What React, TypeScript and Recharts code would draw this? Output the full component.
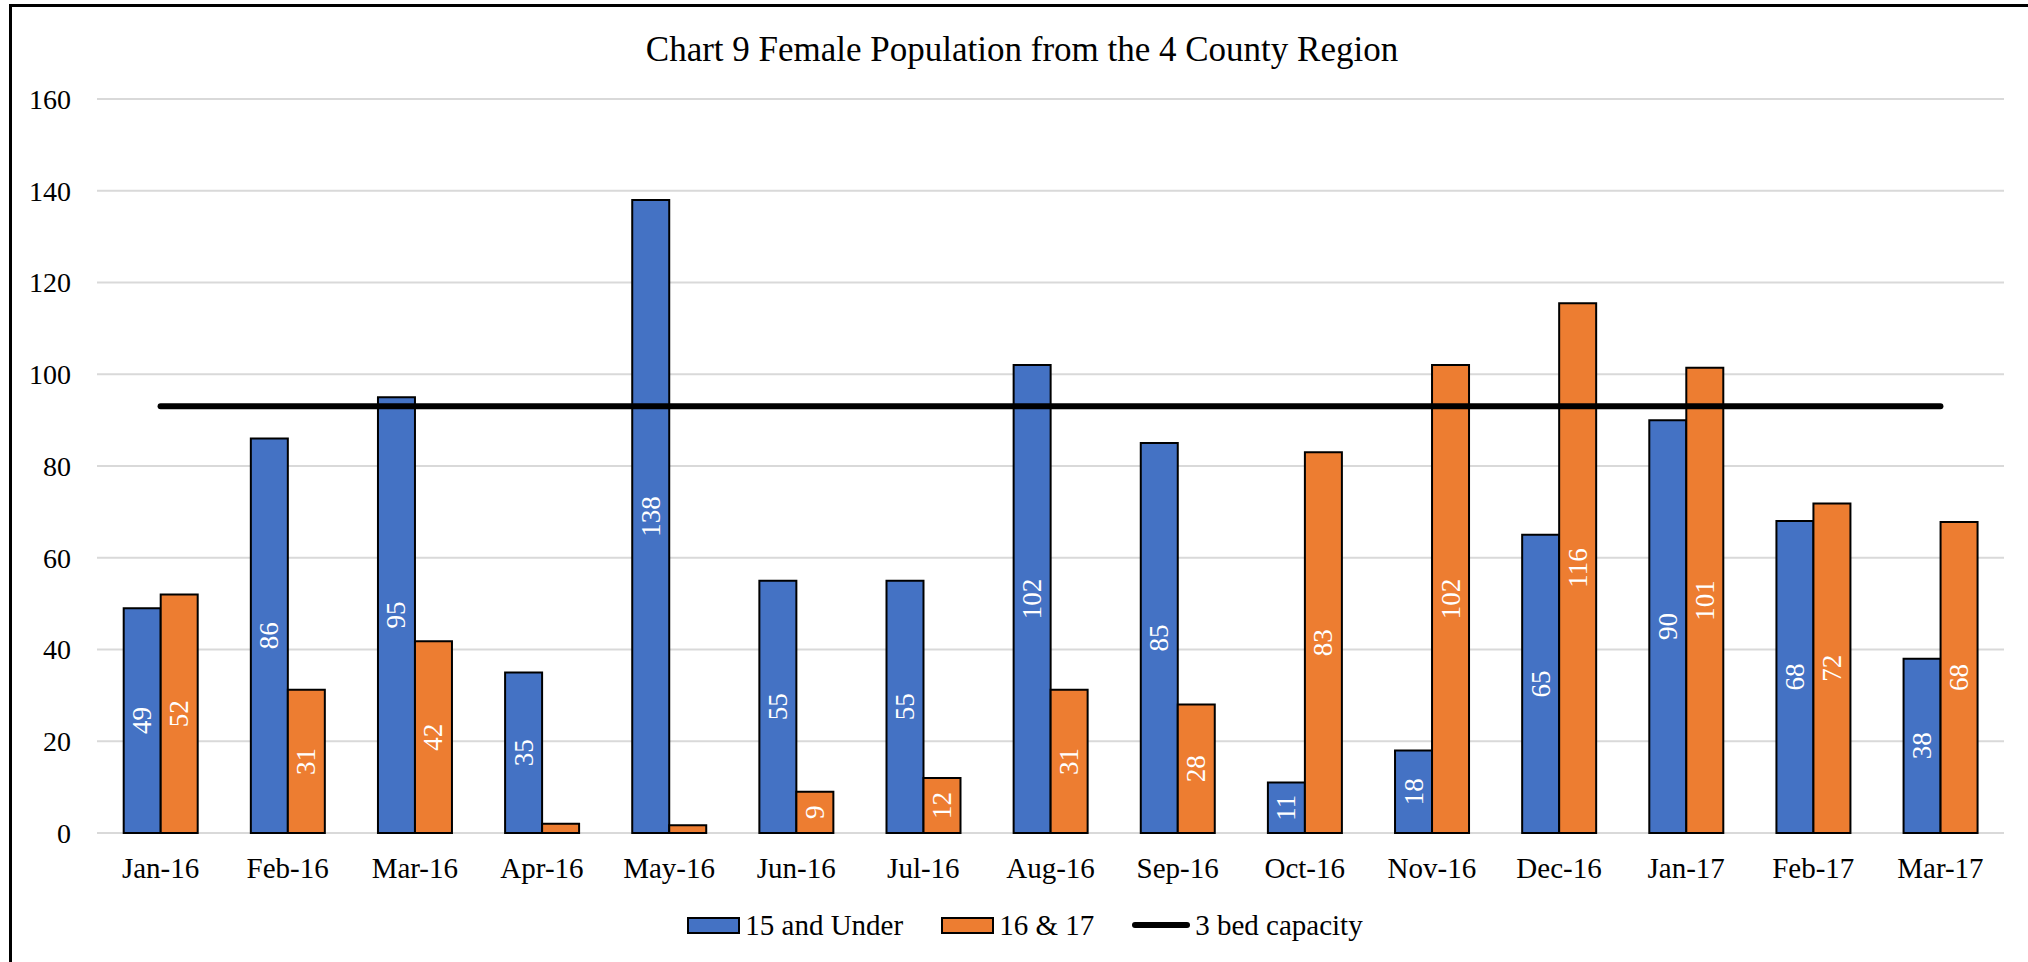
import {
  ComposedChart,
  Bar,
  Line,
  XAxis,
  YAxis,
  CartesianGrid,
  Legend,
  LabelList,
} from 'recharts';

const MONTHS = [
  'Jan-16', 'Feb-16', 'Mar-16', 'Apr-16', 'May-16', 'Jun-16', 'Jul-16', 'Aug-16',
  'Sep-16', 'Oct-16', 'Nov-16', 'Dec-16', 'Jan-17', 'Feb-17', 'Mar-17',
];
const UNDER_15 = [49, 86, 95, 35, 138, 55, 55, 102, 85, 11, 18, 65, 90, 68, 38];
const AGE_16_17 = [52, 31.2, 41.8, 2, 1.7, 9, 12, 31.2, 28, 83, 102, 115.5, 101.4, 71.8, 67.8];
const CAPACITY = [93, 93, 93, 93, 93, 93, 93, 93, 93, 93, 93, 93, 93, 93, 93];
const Y_TICKS = [0, 20, 40, 60, 80, 100, 120, 140, 160];
const CATEGORY_EDGES = [0, 1, 2, 3, 4, 5, 6, 7, 8, 9, 10, 11, 12, 13, 14, 15];

const FONT = '"Liberation Serif", "Times New Roman", serif';
const BLUE = '#4472C4';
const ORANGE = '#ED7D31';
const GRID = '#d9d9d9';

const data = MONTHS.map((m, i) => ({
  month: m,
  under15: UNDER_15[i],
  age1617: AGE_16_17[i],
  capacity: CAPACITY[i],
}));

// rotated white value label in the middle of each bar
function BarValue(props: any) {
  const { x, y, width, height, value } = props;
  if (value == null || value < 5) return null;
  const cx = x + width / 2;
  const cy = y + height / 2;
  return (
    <text
      x={cx}
      y={cy}
      transform={`rotate(-90, ${cx}, ${cy})`}
      textAnchor="middle"
      dominantBaseline="central"
      fill="#fff"
      style={{ fontFamily: FONT, fontSize: 27 }}
    >
      {Math.round(value)}
    </text>
  );
}

function LegendContent(props: any) {
  const { payload } = props;
  return (
    <div
      style={{
        display: 'flex',
        justifyContent: 'center',
        alignItems: 'center',
        height: 40,
        gap: 38,
        paddingLeft: 46,
        fontFamily: FONT,
        fontSize: 29,
        color: '#000',
      }}
    >
      {(payload || []).map((p: any) => (
        <div key={p.value} style={{ display: 'flex', alignItems: 'center', gap: 5 }}>
          {p.type === 'line' ? (
            <svg width={58} height={16}>
              <line x1={3} y1={8} x2={55} y2={8} stroke="#000" strokeWidth={6} strokeLinecap="round" />
            </svg>
          ) : (
            <svg width={53} height={17}>
              <rect x={1} y={1} width={51} height={15} fill={p.color} stroke="#000" strokeWidth={2} />
            </svg>
          )}
          <span style={{ fontFamily: FONT }}>{p.value}</span>
        </div>
      ))}
    </div>
  );
}

export default function App() {
  return (
    <div
      style={{
        position: 'absolute',
        left: 0,
        top: 0,
        width: 2028,
        height: 962,
        overflow: 'hidden',
        background: '#fff',
        fontFamily: FONT,
      }}
    >
      <div
        style={{
          position: 'absolute',
          left: 9,
          top: 4,
          width: 2100,
          height: 1100,
          borderLeft: '3px solid #000',
          borderTop: '3px solid #000',
        }}
      />
      <div
        style={{
          position: 'absolute',
          left: 0,
          top: 30,
          width: 2044,
          textAlign: 'center',
          fontFamily: FONT,
          fontSize: 35,
          lineHeight: '40px',
          color: '#000',
        }}
      >
        Chart 9 Female Population from the 4 County Region
      </div>
      <ComposedChart
        width={2028}
        height={962}
        data={data}
        margin={{ top: 99, right: 24, bottom: 17, left: 0 }}
        barCategoryGap="21%"
        barGap={0}
        style={{ position: 'absolute', left: 0, top: 0, fontFamily: FONT }}
      >
        <CartesianGrid vertical={false} stroke={GRID} strokeWidth={2} />
        <XAxis
          xAxisId="edges"
          type="number"
          domain={[0, 15]}
          ticks={CATEGORY_EDGES}
          height={0}
          tick={false}
          tickSize={9}
          tickLine={{ stroke: GRID, strokeWidth: 2 }}
          axisLine={{ stroke: GRID, strokeWidth: 2 }}
        />
        <XAxis
          dataKey="month"
          height={72}
          axisLine={false}
          tickLine={false}
          tickMargin={18}
          interval={0}
          tick={{ fill: '#000', fontSize: 29, fontFamily: FONT }}
        />
        <YAxis
          width={97}
          domain={[0, 160]}
          ticks={Y_TICKS}
          axisLine={false}
          tickLine={false}
          tickMargin={20}
          tick={{ fill: '#000', fontSize: 28, fontFamily: FONT }}
        />
        <Legend verticalAlign="bottom" content={<LegendContent />} />
        <Bar
          dataKey="under15"
          name="15 and Under"
          fill={BLUE}
          stroke="#000"
          strokeWidth={2}
          isAnimationActive={false}
        >
          <LabelList dataKey="under15" content={<BarValue />} />
        </Bar>
        <Bar
          dataKey="age1617"
          name="16 & 17"
          fill={ORANGE}
          stroke="#000"
          strokeWidth={2}
          isAnimationActive={false}
        >
          <LabelList dataKey="age1617" content={<BarValue />} />
        </Bar>
        <Line
          dataKey="capacity"
          name="3 bed capacity"
          stroke="#000"
          strokeWidth={6}
          strokeLinecap="round"
          dot={false}
          activeDot={false}
          isAnimationActive={false}
        />
      </ComposedChart>
    </div>
  );
}
